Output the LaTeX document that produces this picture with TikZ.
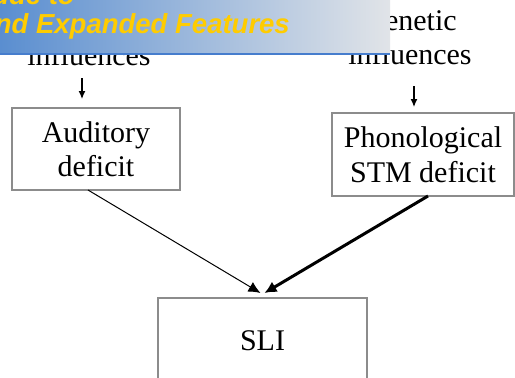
\documentclass[tikz,border=0pt]{standalone}
\usepackage{fontspec}
\setmainfont{Liberation Serif}
\newfontfamily\bannerfont{Liberation Sans}
\usetikzlibrary{arrows.meta}
\definecolor{boxgray}{RGB}{140,140,140}
\definecolor{banleft}{RGB}{90,142,208}
\definecolor{banmid}{RGB}{160,190,222}
\definecolor{banright}{RGB}{225,228,232}
\definecolor{banline}{RGB}{70,125,205}
\definecolor{banyellow}{RGB}{255,204,0}
\tikzset{
  lbl/.style={font=\fontsize{30}{34.5}\selectfont, inner sep=0pt, outer sep=0pt, align=center},
  boxnode/.style={lbl, draw=boxgray, line width=1.3pt},
  smallarrow/.style={line width=1.3pt, -{Latex[length=8pt,width=7pt]}},
  thinarrow/.style={line width=1pt, -{Latex[length=12pt,width=11pt]}},
  thickarrow/.style={line width=3pt, -{Latex[length=12pt,width=12pt]}},
  bannertext/.style={font=\bannerfont\bfseries\itshape\fontsize{27.5}{30}\selectfont, text=banyellow, inner sep=0pt}
}
\begin{document}
\begin{tikzpicture}[x=1pt,y=-1pt]
\useasboundingbox (0,0) rectangle (515,378);
\clip (0,0) rectangle (515,378);
\fill[white] (0,0) rectangle (515,378);
% labels
\node[lbl, anchor=base] (infL) at (89,65) {influences};
\node[lbl, anchor=north] (infR) at (410,10.5) {Genetic\\influences};
% boxes
\node[boxnode, minimum width=168, minimum height=82] (aud) at (96,149) {Auditory\\deficit};
\node[boxnode, minimum width=182, minimum height=83] (pho) at (423,154.5) {Phonological\\STM deficit};
\node[boxnode, minimum width=209, minimum height=85] (sli) at (262.5,340.5) {SLI};
% short arrows
\coordinate (aLx) at (82,0);
\coordinate (aRx) at (414,0);
\draw[smallarrow, shorten <=13pt, shorten >=9pt] (infL.south -| aLx) -- (aud.north -| aLx);
\draw[smallarrow, shorten <=21pt, shorten >=6pt] (infR.south -| aRx) -- (pho.north -| aRx);
% converging arrows
\draw[thinarrow] ([xshift=-8pt]aud.south) -- ([xshift=-2pt,yshift=5pt]sli.north);
\draw[thickarrow] ([xshift=5pt]pho.south) -- ([xshift=2pt,yshift=5pt]sli.north);
% banner
\shade[left color=banleft, middle color=banmid, right color=banright] (0,0) rectangle (390,54);
\draw[banline, line width=2pt] (0,54) -- (390,54);
\node[bannertext, anchor=base east] (ban1) at (75,4) {ude to};
\node[bannertext, anchor=base east] (ban2) at (290,33) {nd Expanded Features};
\end{tikzpicture}
\end{document}
